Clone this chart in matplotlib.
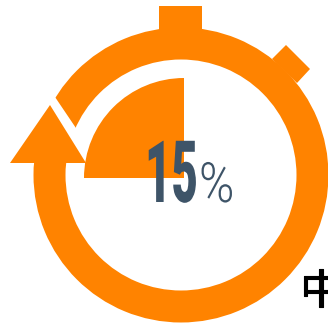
import matplotlib
matplotlib.use('Agg')
import matplotlib.pyplot as plt
from matplotlib.patches import Wedge, Polygon, Rectangle
from matplotlib.patheffects import AbstractPathEffect, withStroke
from matplotlib.transforms import Affine2D

# dial reading: minutes elapsed on a 60 minute stopwatch
minutes = 15
dial_minutes = 60
number_label = '15'
unit_label = '%'
caption = '中'

orange = '#FF8300'
slate = '#3E5468'


# no condensed face is available, so narrow the glyphs when they are drawn
class Narrow(AbstractPathEffect):
    def __init__(self, factor):
        super().__init__()
        self.factor = factor

    def draw_path(self, renderer, gc, tpath, affine, rgbFace=None):
        renderer.draw_path(gc, tpath, Affine2D().scale(self.factor, 1) + affine, rgbFace)


fig = plt.figure(figsize=(3.28, 3.24), dpi=100)
ax = fig.add_axes([0, 0, 1, 1])
ax.set_xlim(0, 328)
ax.set_ylim(324, 0)
ax.axis('off')

# watch body and the two buttons
ax.add_patch(Wedge((181, 175), 147.5, 0, 360, width=32, fc=orange, ec='none'))
ax.add_patch(Rectangle((159, 6), 43, 30, fc=orange, ec='none'))
ax.add_patch(Polygon([(286, 45), (310, 69), (297, 83), (272, 59)], fc=orange, ec='none'))

# gap in the ring, then the arrow head over it
ax.add_patch(Polygon([(50, 89.6), (82, 137), (90, 163), (20, 163), (20, 89.6)], fc='white', ec='none'))
ax.add_patch(Polygon([(50, 105), (10, 163), (86, 163)], fc=orange, ec='none'))

# elapsed sector, runs back from 12 o'clock
sweep = 360 * minutes / dial_minutes
ax.add_patch(Wedge((184, 178), 100, 270 - sweep, 270, fc=orange, ec='none'))

ax.text(145, 202, number_label, color=slate, fontsize=62, fontweight=900, family='Roboto',
        ha='left', va='baseline', path_effects=[Narrow(0.53)])
ax.text(199, 202, unit_label, color=slate, fontsize=40, fontweight=300, family='Roboto',
        ha='left', va='baseline', path_effects=[Narrow(0.86)])
ax.text(321, 292, caption, color='black', fontsize=30, family='Noto Sans CJK SC',
        ha='center', va='center', clip_on=True,
        path_effects=[withStroke(linewidth=0.8, foreground='black')])

fig.savefig('out.png', dpi=100)
